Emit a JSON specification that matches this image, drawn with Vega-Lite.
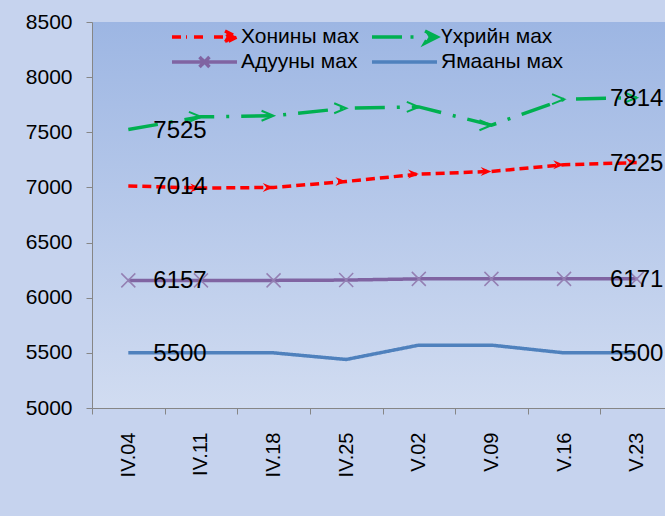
{
  "$schema": "https://vega.github.io/schema/vega-lite/v6.json",
  "width": 581,
  "height": 386,
  "autosize": "none",
  "padding": {"left": 92, "top": 22, "right": 0, "bottom": 108},
  "background": "#c6d3ee",
  "config": {
    "font": "Liberation Sans",
    "view": {
      "stroke": null,
      "fill": {
        "gradient": "linear",
        "x1": 0, "y1": 0, "x2": 0, "y2": 1,
        "stops": [
          {"offset": 0, "color": "#9db6e3"},
          {"offset": 1, "color": "#d1dcf1"}
        ]
      }
    }
  },
  "data": {
    "values": [
      {"date": "IV.04", "series": "Хонины мах", "value": 7014},
      {"date": "IV.11", "series": "Хонины мах", "value": 6994},
      {"date": "IV.18", "series": "Хонины мах", "value": 7000},
      {"date": "IV.25", "series": "Хонины мах", "value": 7054},
      {"date": "V.02", "series": "Хонины мах", "value": 7121},
      {"date": "V.09", "series": "Хонины мах", "value": 7145},
      {"date": "V.16", "series": "Хонины мах", "value": 7206},
      {"date": "V.23", "series": "Хонины мах", "value": 7225},
      {"date": "IV.04", "series": "Үхрийн мах", "value": 7525},
      {"date": "IV.11", "series": "Үхрийн мах", "value": 7640},
      {"date": "IV.18", "series": "Үхрийн мах", "value": 7650},
      {"date": "IV.25", "series": "Үхрийн мах", "value": 7718},
      {"date": "V.02", "series": "Үхрийн мах", "value": 7730},
      {"date": "V.09", "series": "Үхрийн мах", "value": 7564},
      {"date": "V.16", "series": "Үхрийн мах", "value": 7800},
      {"date": "V.23", "series": "Үхрийн мах", "value": 7814},
      {"date": "IV.04", "series": "Адууны мах", "value": 6157},
      {"date": "IV.11", "series": "Адууны мах", "value": 6157},
      {"date": "IV.18", "series": "Адууны мах", "value": 6157},
      {"date": "IV.25", "series": "Адууны мах", "value": 6160},
      {"date": "V.02", "series": "Адууны мах", "value": 6171},
      {"date": "V.09", "series": "Адууны мах", "value": 6171},
      {"date": "V.16", "series": "Адууны мах", "value": 6171},
      {"date": "V.23", "series": "Адууны мах", "value": 6171},
      {"date": "IV.04", "series": "Ямааны мах", "value": 5500},
      {"date": "IV.11", "series": "Ямааны мах", "value": 5500},
      {"date": "IV.18", "series": "Ямааны мах", "value": 5500},
      {"date": "IV.25", "series": "Ямааны мах", "value": 5440},
      {"date": "V.02", "series": "Ямааны мах", "value": 5570},
      {"date": "V.09", "series": "Ямааны мах", "value": 5570},
      {"date": "V.16", "series": "Ямааны мах", "value": 5500},
      {"date": "V.23", "series": "Ямааны мах", "value": 5500}
    ]
  },
  "encoding": {
    "x": {
      "field": "date",
      "type": "ordinal",
      "sort": null,
      "scale": {"type": "band", "paddingInner": 0, "paddingOuter": 0},
      "axis": {
        "title": null,
        "labelAngle": -90,
        "labelFontSize": 20,
        "labelFont": "Liberation Sans",
        "labelColor": "#000000",
        "tickBand": "extent",
        "tickSize": 6,
        "tickColor": "#868686",
        "domainColor": "#868686",
        "labelPadding": 18,
        "grid": false
      }
    },
    "y": {
      "field": "value",
      "type": "quantitative",
      "scale": {"domain": [5000, 8500], "nice": false, "zero": false},
      "axis": {
        "title": null,
        "values": [5000, 5500, 6000, 6500, 7000, 7500, 8000, 8500],
        "labelFontSize": 21,
        "labelFont": "Liberation Sans",
        "labelColor": "#000000",
        "labelPadding": 14,
        "labelFlush": false,
        "labelOverlap": false,
        "tickSize": 6,
        "tickColor": "#868686",
        "domainColor": "#868686",
        "grid": false,
        "format": "d"
      }
    }
  },
  "layer": [
    {
      "mark": {"type": "line", "strokeCap": "butt"},
      "encoding": {
        "color": {
          "field": "series",
          "type": "nominal",
          "scale": {
            "domain": ["Хонины мах", "Үхрийн мах", "Адууны мах", "Ямааны мах"],
            "range": ["#ff0000", "#00b050", "#8064a2", "#4f81bd"]
          },
          "legend": {
            "orient": "none",
            "direction": "horizontal",
            "legendX": 100.5,
            "legendY": 3,
            "columns": 2,
            "title": null,
            "padding": 0,
            "symbolType": "M-3.25,0L3.25,0",
            "symbolSize": 400,
            "symbolStrokeWidth": 2,
            "labelOffset": 24.5,
            "columnPadding": 5,
            "rowPadding": 0,
            "labelFontSize": 21,
            "labelFont": "Liberation Sans",
            "labelColor": "#000000",
            "encode": {
              "symbols": {
                "update": {
                  "shape": {"signal": "datum.value === 'Хонины мах' ? 'M-3.25,0L-1.75,0M-1.05,0L0.25,0M0.95,0L2.2,0M2.05,-0.6L3.25,0L2.05,0.6L2.4,0Z' : datum.value === 'Үхрийн мах' ? 'M-3.25,0L-0.2,0M0.6,0L0.9,0M2.05,-0.6L3.25,0L2.05,0.6L2.4,0Z' : datum.value === 'Адууны мах' ? 'M-3.25,0L3.25,0M-0.5,-0.5L0.5,0.5M-0.5,0.5L0.5,-0.5' : 'M-3.25,0L3.25,0'"},
                  "strokeWidth": {"signal": "datum.value === 'Хонины мах' || datum.value === 'Үхрийн мах' ? 3.5 : 1.5"},
                  "fill": {"signal": "datum.value === 'Хонины мах' ? '#ff0000' : datum.value === 'Үхрийн мах' ? '#00b050' : 'transparent'"},
                  "strokeDash": {"value": []}
                }
              }
            }
          }
        },
        "strokeDash": {
          "field": "series",
          "type": "nominal",
          "scale": {
            "domain": ["Хонины мах", "Үхрийн мах", "Адууны мах", "Ямааны мах"],
            "range": [[9, 5], [30, 12, 3, 12], [1, 0], [1, 0]]
          },
          "legend": null
        },
        "strokeWidth": {
          "field": "series",
          "type": "nominal",
          "scale": {
            "domain": ["Хонины мах", "Үхрийн мах", "Адууны мах", "Ямааны мах"],
            "range": [3.5, 3.5, 5, 5]
          },
          "legend": null
        }
      }
    },
    {
      "transform": [{"filter": "datum.series === 'Хонины мах' && datum.date !== 'IV.04'"}],
      "mark": {"type": "point", "shape": "M-2.4,-1L0,0L-2.4,1L-1.6,0Z", "size": 81, "filled": true, "color": "#ff0000", "opacity": 1}
    },
    {
      "transform": [{"filter": "datum.series === 'Үхрийн мах' && datum.date !== 'IV.04'"}],
      "mark": {"type": "point", "shape": "M-2.4,-1L0,0L-2.4,1", "size": 100, "filled": false, "stroke": "#00b050", "strokeWidth": 2, "opacity": 1}
    },
    {
      "transform": [{"filter": "datum.series === 'Адууны мах'"}],
      "mark": {"type": "point", "shape": "M-1,-1L1,1M-1,1L1,-1", "size": 196, "filled": false, "stroke": "#9480b3", "strokeWidth": 1.5, "opacity": 1}
    },
    {
      "transform": [{"filter": "datum.date === 'IV.04'"}],
      "mark": {"type": "text", "align": "left", "baseline": "middle", "dx": 25, "dy": 1, "fontSize": 24, "font": "Liberation Sans", "color": "#000000"},
      "encoding": {"text": {"field": "value", "type": "quantitative", "format": "d"}}
    },
    {
      "transform": [{"filter": "datum.date === 'V.23'"}],
      "mark": {"type": "text", "align": "center", "baseline": "middle", "dx": 0, "dy": 1, "fontSize": 24, "font": "Liberation Sans", "color": "#000000"},
      "encoding": {"text": {"field": "value", "type": "quantitative", "format": "d"}}
    }
  ]
}
